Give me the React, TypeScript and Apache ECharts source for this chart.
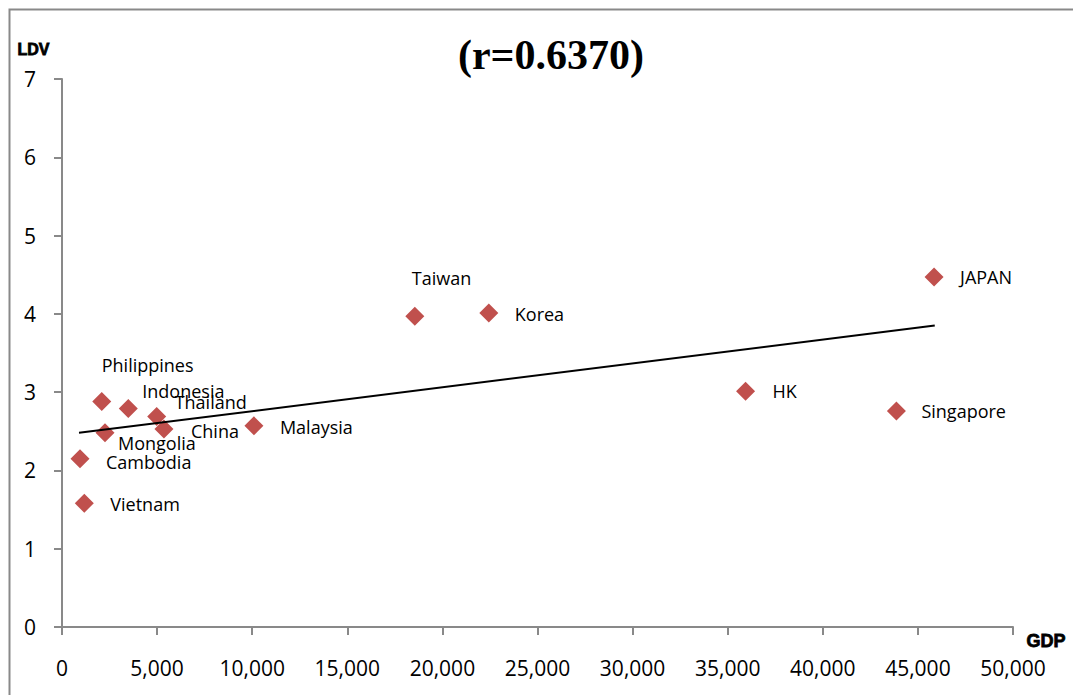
import React, { useEffect, useRef } from "react";
import * as echarts from "echarts";

const countries = ["JAPAN", "Korea", "Taiwan", "HK", "Singapore", "Malaysia", "Philippines", "Indonesia", "Thailand", "China", "Mongolia", "Cambodia", "Vietnam"];
const gdp = [45850, 22440, 18550, 35940, 43870, 10090, 2090, 3485, 4977, 5361, 2260, 946, 1172];
const ldv = [4.47, 4.01, 3.97, 3.01, 2.76, 2.57, 2.88, 2.79, 2.69, 2.53, 2.48, 2.15, 1.58];
const trendX = [894, 45885];
const trendY = [2.48, 3.85];
const title = "(r=0.6370)";
const xName = "GDP";
const yName = "LDV";

// label placement (text left / text centre relative to marker centre), px
const labelShift: Record<string, [number, number]> = {
  JAPAN: [26, 0],
  Korea: [26, 1],
  Taiwan: [-3, -38],
  HK: [27, 0],
  Singapore: [25, 0],
  Malaysia: [26, 1],
  Philippines: [0, -37],
  Indonesia: [14, -18],
  Thailand: [18, -14],
  China: [27, 2],
  Mongolia: [13, 10],
  Cambodia: [26, 3],
  Vietnam: [26, 1],
};

const SYM = 19;

export default function App() {
  const ref = useRef<HTMLDivElement>(null);
  useEffect(() => {
    if (!ref.current) return;
    const chart = echarts.init(ref.current, undefined, { renderer: "svg" });
    const pts = countries.map((c, i) => {
      const s = labelShift[c] || [20, 0];
      return {
        name: c,
        value: [gdp[i], ldv[i]],
        label: { offset: [s[0] - SYM / 2, s[1]] },
      };
    });
    chart.setOption({
      animation: false,
      backgroundColor: "#ffffff",
      textStyle: { fontFamily: "Open Sans" },
      title: {
        text: title,
        left: 546,
        top: 29,
        textAlign: "center",
        textStyle: { fontFamily: "Liberation Serif", fontWeight: "bold", fontSize: 42, color: "#000" },
      },
      graphic: [
        {
          type: "rect",
          left: 7,
          top: 7,
          shape: { width: 1100, height: 720 },
          style: { fill: "none", stroke: "#898989", lineWidth: 2 },
          silent: true,
        },
        {
          type: "text",
          left: 17,
          top: 41,
          style: { text: yName, font: "bold 16px 'Liberation Sans'", fill: "#000", stroke: "#000", lineWidth: 0.8 },
        },
        {
          type: "text",
          left: 1026,
          top: 632,
          style: { text: xName, font: "bold 18px 'Liberation Sans'", fill: "#000", stroke: "#000", lineWidth: 0.8 },
        },
      ],
      grid: { left: 62, right: 60, top: 79, bottom: 68, containLabel: false },
      xAxis: {
        type: "value",
        min: 0,
        max: 50000,
        interval: 5000,
        axisLine: { show: true, lineStyle: { color: "#898989", width: 2 } },
        axisTick: { show: true, length: 8, lineStyle: { color: "#898989", width: 2 } },
        splitLine: { show: false },
        axisLabel: {
          margin: 30,
          fontSize: 21,
          color: "#000",
          fontFamily: "Open Sans",
          formatter: (v: number) => v.toLocaleString("en-US"),
        },
      },
      yAxis: {
        type: "value",
        min: 0,
        max: 7,
        interval: 1,
        axisLine: { show: true, lineStyle: { color: "#898989", width: 2 } },
        axisTick: { show: true, length: 8, lineStyle: { color: "#898989", width: 2 } },
        splitLine: { show: false },
        axisLabel: { margin: 26, fontSize: 21, color: "#000", fontFamily: "Open Sans" },
      },
      series: [
        {
          type: "line",
          data: [
            [trendX[0], trendY[0]],
            [trendX[1], trendY[1]],
          ],
          showSymbol: false,
          symbol: "none",
          lineStyle: { color: "#000", width: 2 },
          z: 3,
        },
        {
          type: "scatter",
          data: pts,
          symbol: "diamond",
          symbolSize: SYM,
          itemStyle: { color: "#C0504D", opacity: 1 },
          z: 2,
          label: {
            show: true,
            position: "right",
            distance: 0,
            formatter: (p: any) => p.name,
            fontSize: 18,
            fontFamily: "Open Sans",
            color: "#000",
          },
        },
      ],
    });
    return () => chart.dispose();
  }, []);
  return (
    <div
      ref={ref}
      style={{ position: "fixed", left: 0, top: 0, width: 1073, height: 695 }}
    />
  );
}
